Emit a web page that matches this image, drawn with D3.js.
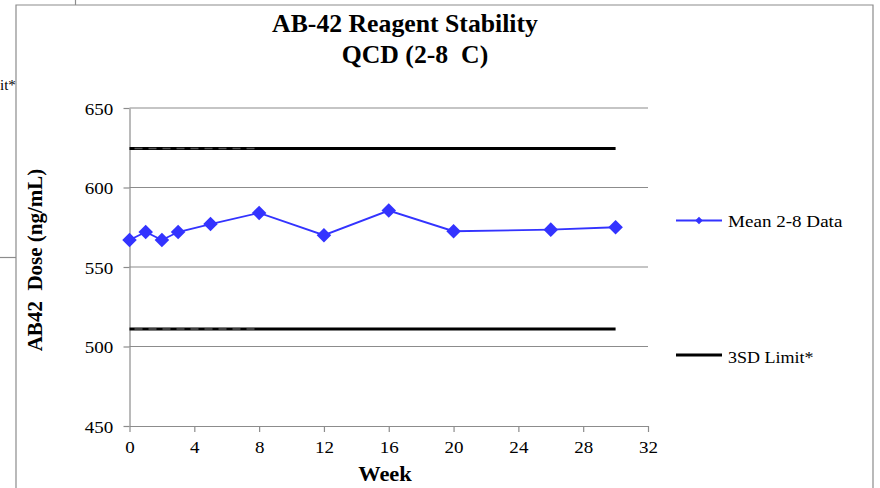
<!DOCTYPE html>
<html>
<head>
<meta charset="utf-8">
<script src="https://cdn.jsdelivr.net/npm/d3@7"></script>
<style>
  body { margin: 0; background: #fff; }
  svg { display: block; font-family: "Liberation Serif", "DejaVu Serif", serif; }
</style>
</head>
<body>
<svg id="drawing_region"></svg>
<script>
// data
const weeks = [0, 1, 2, 3, 5, 8, 12, 16, 20, 26, 30]
const meanDose = [567, 572, 567, 572, 577, 584, 570, 585.5, 572.5, 573.5, 575]
const limitWeeks = [0, 30]
const upperLimit = [624.5, 624.5]
const lowerLimit = [511, 511]
const overlayWeeks = [0, 8]
const xTicks = [0, 4, 8, 12, 16, 20, 24, 28, 32]
const yTicks = [450, 500, 550, 600, 650]

const width = 880, height = 488
const margin = {top: 108, left: 129.5, right: 232, bottom: 62}
const innerW = width - margin.left - margin.right
const innerH = height - margin.top - margin.bottom
const sx = 1.12 // the source text is drawn a little wide

const svg = d3.select('#drawing_region')
    .attr('width', width)
    .attr('height', height)

// frame of the chart area and stray bits from the source sheet
svg.append('path')
    .attr('d', `M16,${height} V5 H873 V${height}`)
    .attr('fill', 'none').attr('stroke', '#8c8c8c').attr('stroke-width', 1.2)
svg.append('line').attr('x1', 75.5).attr('x2', 75.5).attr('y1', 0).attr('y2', 5)
    .attr('stroke', '#8c8c8c').attr('stroke-width', 1.2)
svg.append('line').attr('x1', 0).attr('x2', 16).attr('y1', 257.5).attr('y2', 257.5)
    .attr('stroke', '#8c8c8c').attr('stroke-width', 1.2)
svg.append('text').attr('x', 0).attr('y', 90).attr('font-size', 15).text('it*')

const xscale = d3.scaleLinear().domain([0, 32]).range([0, innerW])
const yscale = d3.scaleLinear().domain([450, 650]).range([innerH, 0])

const chart = svg.append('g')
    .attr('transform', `translate(${margin.left},${margin.top})`)

// gridlines
chart.append('g').selectAll('line').data(yTicks.slice(1)).enter()
    .append('line')
    .attr('x1', 0).attr('x2', innerW)
    .attr('y1', d => yscale(d)).attr('y2', d => yscale(d))
    .attr('stroke', '#8c8c8c').attr('stroke-width', 1.2)

const xaxis = d3.axisBottom(xscale).tickValues(xTicks).tickSize(6).tickSizeOuter(0).tickPadding(9)
const yaxis = d3.axisLeft(yscale).tickValues(yTicks).tickSize(6).tickSizeOuter(0).tickPadding(16 / sx - 6 + 0.2)

const xg = chart.append('g').attr('transform', `translate(0,${innerH})`).call(xaxis)
const yg = chart.append('g').call(yaxis)
;[xg, yg].forEach(g => {
    g.selectAll('path, line').attr('stroke', '#8c8c8c').attr('stroke-width', 1.2)
    g.selectAll('text').attr('font-family', '"Liberation Serif", serif')
        .attr('font-size', 17).attr('fill', '#000')
        .attr('transform', `scale(${sx},1)`)
})
yg.selectAll('text').attr('dy', '0.36em')

// limit lines
const line = d3.line().x(d => xscale(d[0])).y(d => yscale(d[1]))
;[upperLimit, lowerLimit].forEach(lim => {
    chart.append('path')
        .datum(limitWeeks.map((w, i) => [w, lim[i]]))
        .attr('d', line)
        .attr('fill', 'none').attr('stroke', '#000').attr('stroke-width', 3)
    chart.append('path')
        .datum(overlayWeeks.map(w => [w, lim[0]]))
        .attr('d', line)
        .attr('fill', 'none').attr('stroke', '#555').attr('stroke-width', 1.5)
        .attr('stroke-dasharray', '8,6').attr('stroke-dashoffset', -5)
})

// mean series
const pts = weeks.map((w, i) => [w, meanDose[i]])
chart.append('path')
    .datum(pts)
    .attr('d', line)
    .attr('fill', 'none').attr('stroke', '#3333ff').attr('stroke-width', 1.8)

const diamond = d3.symbol().type(d3.symbolDiamond2).size(135)
chart.selectAll('.pt').data(pts).enter()
    .append('path')
    .attr('class', 'pt')
    .attr('d', diamond)
    .attr('transform', d => `translate(${xscale(d[0])},${yscale(d[1])})`)
    .attr('fill', '#3333ff')

// titles
function label(x, y, txt, size, stretch, anchor){
    return svg.append('text')
        .attr('transform', `translate(${x},${y}) scale(${stretch},1)`)
        .attr('text-anchor', anchor || 'start')
        .attr('font-size', size)
        .attr('xml:space', 'preserve')
        .text(txt)
}
label(405, 31.5, 'AB-42 Reagent Stability', 25, 1.03, 'middle').attr('font-weight', 'bold')
label(415, 63, 'QCD (2-8  C)', 25, 1.03, 'middle').attr('font-weight', 'bold')
label(385, 481, 'Week', 21, 1.07, 'middle').attr('font-weight', 'bold')

svg.append('text')
    .attr('transform', 'translate(42,260) rotate(-90)')
    .attr('text-anchor', 'middle').attr('font-weight', 'bold').attr('font-size', 21)
    .attr('xml:space', 'preserve')
    .text('AB42  Dose (ng/mL)')

// legend
const legend = svg.append('g')
legend.append('line').attr('x1', 676).attr('x2', 722).attr('y1', 220.5).attr('y2', 220.5)
    .attr('stroke', '#3333ff').attr('stroke-width', 1.8)
legend.append('path').attr('d', d3.symbol().type(d3.symbolDiamond2).size(36))
    .attr('transform', 'translate(699,220.5)').attr('fill', '#3333ff')
label(728, 226.5, 'Mean 2-8 Data', 17.5, 1.09)

legend.append('line').attr('x1', 676).attr('x2', 722).attr('y1', 355).attr('y2', 355)
    .attr('stroke', '#000').attr('stroke-width', 3)
label(728, 363, '3SD Limit*', 17.5, 1.03)
</script>
</body>
</html>
